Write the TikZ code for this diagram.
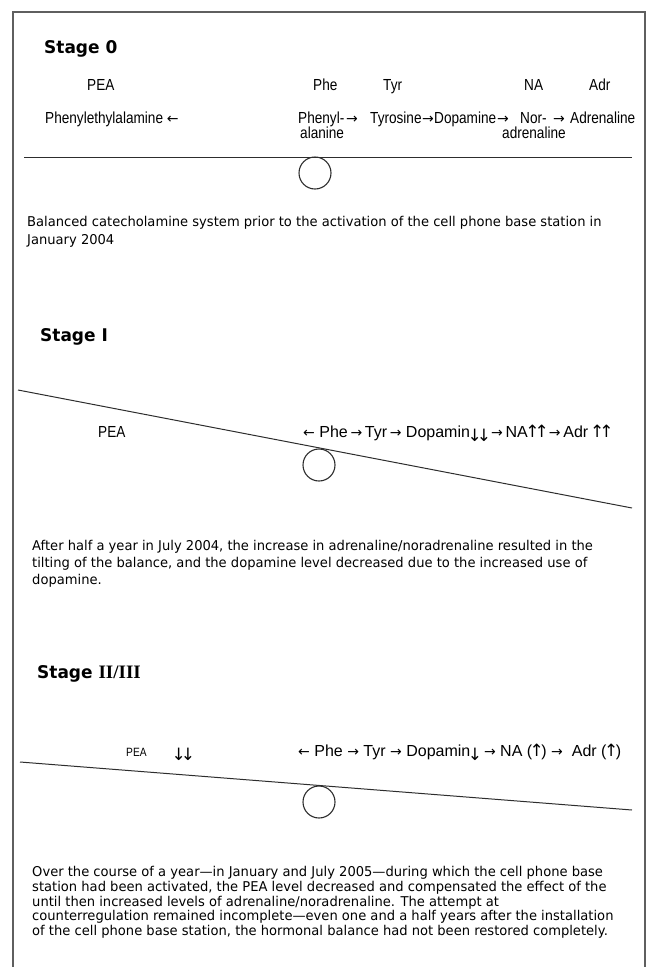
\documentclass[tikz,border=0pt]{standalone}
\usepackage{fontspec}
\setmainfont{DejaVu Sans}[FakeStretch=0.97]
\newfontfamily\labfont{Liberation Sans}[FakeStretch=0.85]
\newfontfamily\chainfont{Liberation Sans}
\newfontfamily\romfont{Liberation Serif}
\newfontfamily\arrfont{DejaVu Sans}
\usetikzlibrary{positioning}
\definecolor{frameCol}{RGB}{95,95,95}
\definecolor{beamCol}{RGB}{45,45,45}
\newcommand{\har}{{\arrfont\fontsize{14}{14}\selectfont →}}
\newcommand{\hal}{{\arrfont\fontsize{14}{14}\selectfont ←}}
\newcommand{\dnar}{\raisebox{-0.25em}{\arrfont\fontsize{17}{17}\selectfont\kern-2.5pt↓\kern-2.5pt}}
\newcommand{\upar}{{\arrfont\fontsize{17}{17}\selectfont\kern-2.5pt↑\kern-2.5pt}}
\tikzset{
  head/.style={anchor=base west, inner sep=0pt, font=\fontsize{17.5}{20}\selectfont\bfseries},
  lbl/.style={anchor=base west, inner sep=0pt, font=\labfont\fontsize{16}{13}\selectfont},
  chain/.style={anchor=base west, inner sep=0pt, font=\chainfont\fontsize{16}{13}\selectfont},
  para/.style={anchor=north west, inner sep=0pt, align=left},
  beam/.style={beamCol, line width=1pt},
  pivot/.style={circle, draw=beamCol, line width=1.1pt, minimum size=32pt, inner sep=0pt},
}
\begin{document}
\begin{tikzpicture}[x=1pt, y=-1pt]
  \useasboundingbox (0,0) rectangle (650,967);
  \draw[frameCol, line width=1.5pt] (13,967) -- (13,12) -- (645,12) -- (645,967);

  % Stage 0: balanced
  \node[head] (h0) at (44,53) {Stage 0};
  \node[lbl] (pea0) at (87,90) {PEA};
  \node[lbl] (phe0) at (313,90) {Phe};
  \node[lbl] (tyr0) at (383,90) {Tyr};
  \node[lbl] (na0) at (524,90) {NA};
  \node[lbl] (adr0) at (589,90) {Adr};
  \node[lbl] (peaL0) at (45,123) {Phenylethylalamine \hal};
  \node[lbl] (pheL0) at (298,123) {Phenyl-};
  \node[lbl] (pheLb0) at (300,138) {alanine};
  \node[lbl] (arA0) at (346,123) {\har};
  \node[lbl] (tyrL0) at (370,123) {Tyrosine};
  \node[lbl] (arB0) at (422,123) {\har};
  \node[lbl] (dopL0) at (434,123) {Dopamine};
  \node[lbl] (arC0) at (497,123) {\har};
  \node[lbl] (naL0) at (520,123) {Nor-};
  \node[lbl] (naLb0) at (502,138) {adrenaline};
  \node[lbl] (arD0) at (553,123) {\har};
  \node[lbl] (adrL0) at (570,123) {Adrenaline};
  \coordinate (b0l) at (24,157);
  \coordinate (b0r) at (632,157);
  \draw[beam] (b0l) -- (b0r);
  \node[pivot] (p0) at (315,173) {};
  \node[para, font=\fontsize{13.5}{18}\selectfont] (t0) at (27,216)
    {Balanced catecholamine system prior to the activation of the cell phone base station in\\
     January 2004};

  % Stage I: tilted
  \node[head] (h1) at (40,341) {Stage I};
  \coordinate (b1l) at (18,390);
  \coordinate (b1r) at (632,508);
  \draw[beam] (b1l) -- (b1r);
  \node[pivot] (p1) at (319,465) {};
  \node[lbl] (pea1) at (98,437) {PEA};
  \node[chain] (chain1) at (303,437)
    {\hal\ Phe\,\har\,Tyr\,\har\ Dopamin\dnar\dnar\,\har\,NA\upar\upar\,\har\,Adr\ \upar\upar};
  \node[para, font=\fontsize{13.5}{17}\selectfont] (t1) at (32,540)
    {After half a year in July 2004, the increase in adrenaline/noradrenaline resulted in the\\
     tilting of the balance, and the dopamine level decreased due to the increased use of\\
     dopamine.};

  % Stage II/III: partly restored
  \node[head] (h2) at (37,678) {Stage {\romfont\fontsize{19}{20}\selectfont II/III}};
  \coordinate (b2l) at (20,762);
  \coordinate (b2r) at (632,810);
  \draw[beam] (b2l) -- (b2r);
  \node[pivot] (p2) at (319,802) {};
  \node[lbl, font=\labfont\fontsize{12}{13}\selectfont] (pea2) at (126,756) {PEA};
  \node[chain] (dn2) at (174,756) {\dnar\dnar};
  \node[chain] (chain2) at (298,756)
    {\hal\ Phe \har\ Tyr \har\ Dopamin\dnar\ \har\ NA (\upar) \har\ \ Adr (\upar)};
  \node[para, font=\fontsize{13.5}{14.8}\selectfont] (t2) at (32,866)
    {Over the course of a year—in January and July 2005—during which the cell phone base\\
     station had been activated, the PEA level decreased and compensated the effect of the\\
     until then increased levels of adrenaline/noradrenaline. The attempt at\\
     counterregulation remained incomplete—even one and a half years after the installation\\
     of the cell phone base station, the hormonal balance had not been restored completely.};
\end{tikzpicture}
\end{document}
